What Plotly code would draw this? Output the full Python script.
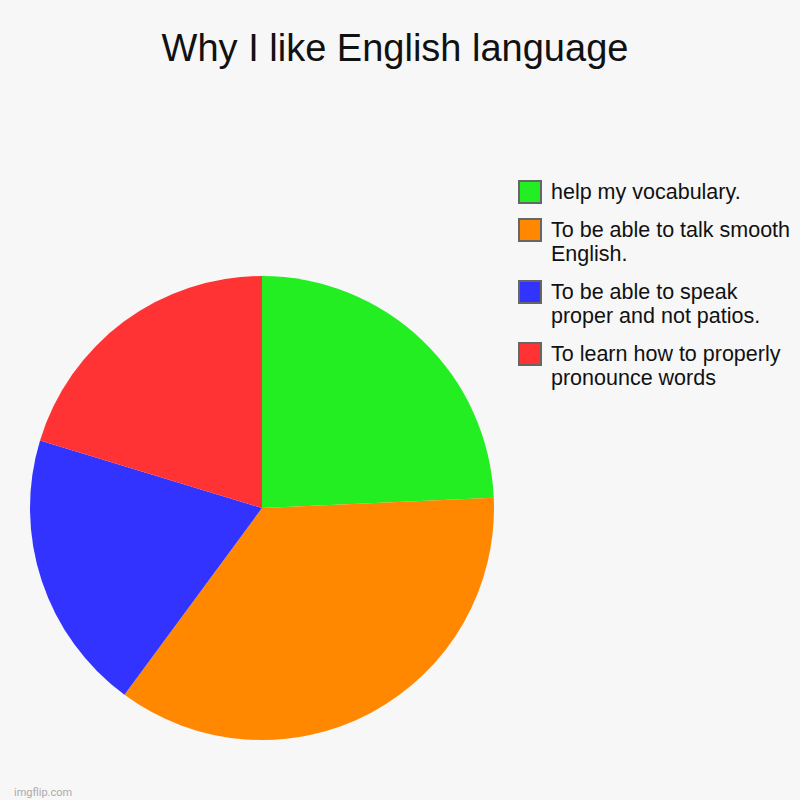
import plotly.graph_objects as go

labels = [
    "help my vocabulary.",
    "To be able to talk smooth<br>English.",
    "To be able to speak<br>proper and not patios.",
    "To learn how to properly<br>pronounce words",
]
values = [24.3, 35.8, 19.6, 20.3]
colors = ["#22ee22", "#ff8800", "#3333ff", "#ff3333"]

W = H = 800
fig = go.Figure(go.Pie(
    labels=labels,
    values=values,
    sort=False,
    direction="clockwise",
    rotation=0,
    marker=dict(colors=colors, line=dict(width=0)),
    textinfo="none",
    hoverinfo="label+percent",
    showlegend=False,
    domain=dict(x=[30/W, 494/W], y=[1-740/H, 1-276/H]),
))

# custom legend (big bordered swatches like the reference)
shapes = []
annotations = []
y_px = 192
for lab, col in zip(labels, colors):
    lines = lab.split("<br>")
    shapes.append(dict(type="rect", xref="paper", yref="paper",
                       x0=519/W, x1=541/W, y0=1-(y_px+11)/H, y1=1-(y_px-11)/H,
                       fillcolor=col, line=dict(color="#666666", width=2)))
    for k, ln in enumerate(lines):
        annotations.append(dict(text=ln, xref="paper", yref="paper",
                                x=549/W, y=1-(y_px+24*k)/H, xanchor="left", yanchor="middle",
                                showarrow=False, font=dict(size=21.5, color="#111111")))
    y_px += 38 + 24*(len(lines)-1)

annotations.append(dict(text="imgflip.com", x=12/W, y=1-792/H, xref="paper", yref="paper",
                        xanchor="left", yanchor="middle", showarrow=False,
                        font=dict(size=11, color="#aaaaaa", family="Roboto, sans-serif")))

fig.update_layout(
    width=W, height=H,
    margin=dict(l=0, r=0, t=0, b=0),
    paper_bgcolor="#f7f7f7",
    plot_bgcolor="#f7f7f7",
    font=dict(family="Liberation Sans, Arial, sans-serif", color="#111111"),
    title=dict(text="Why I like English language", x=395/W, xanchor="center",
               y=1-48/H, yanchor="middle", font=dict(size=38, color="#111111")),
    showlegend=False,
    shapes=shapes,
    annotations=annotations,
)

fig.write_html("out.html", config={"displayModeBar": False},
               post_script="document.body.style.margin='0';document.body.style.padding='0';")
